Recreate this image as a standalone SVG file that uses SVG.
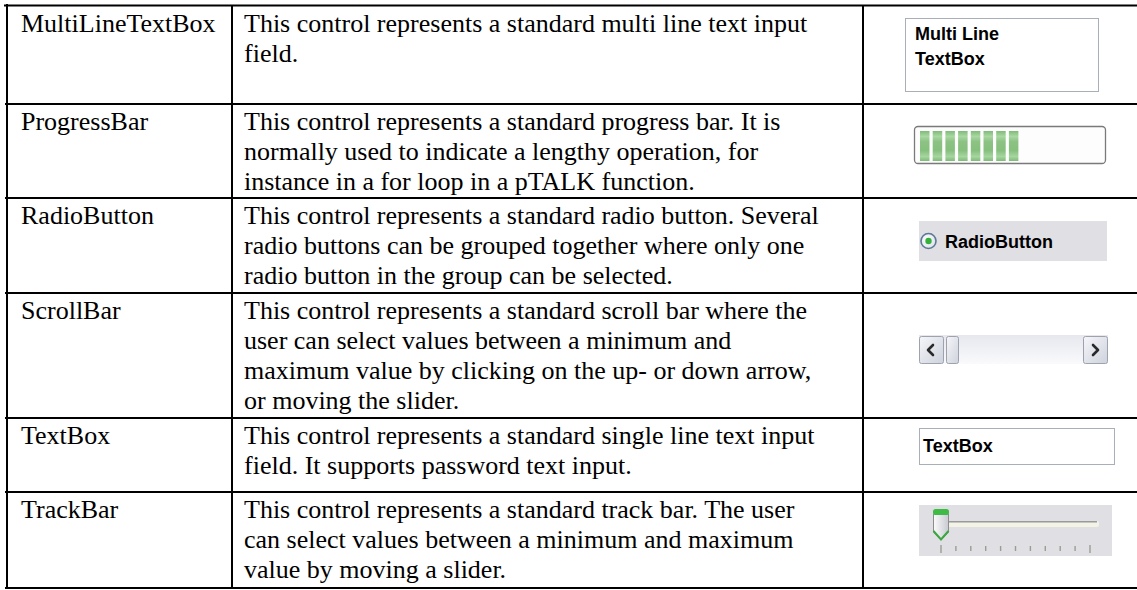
<svg xmlns="http://www.w3.org/2000/svg" width="1137" height="590" viewBox="0 0 1137 590">
  <style>
    .t { font-family: "Liberation Serif", "Times New Roman", serif; font-size: 26px; fill: #000; }
    .ui { font-family: "Liberation Sans", Arial, sans-serif; font-size: 18px; font-weight: bold; fill: #000; }
    .rule { stroke: #000; stroke-width: 2; fill: none; }
    .panel { fill: #e0dfe3; }
    .btn { fill: url(#btnFill); stroke: #9ca2ae; stroke-width: 1; }
    .chev { fill: none; stroke: #2a2a2a; stroke-width: 2.6; stroke-linecap: round; stroke-linejoin: round; }
    .seg { fill: url(#segFill); }
    .tick { stroke: #9c9c92; stroke-width: 1.4; }
  </style>
  <defs>
    <linearGradient id="segFill" x1="0" y1="0" x2="0" y2="1">
      <stop offset="0" stop-color="#7fbb78"/>
      <stop offset="0.18" stop-color="#a9d8a2"/>
      <stop offset="0.35" stop-color="#8cc384"/>
      <stop offset="0.65" stop-color="#86bf7e"/>
      <stop offset="0.85" stop-color="#a6d59f"/>
      <stop offset="1" stop-color="#7fbb78"/>
    </linearGradient>
    <linearGradient id="btnFill" x1="0" y1="0" x2="1" y2="1">
      <stop offset="0" stop-color="#f6f6fa"/>
      <stop offset="1" stop-color="#cfd2dc"/>
    </linearGradient>
    <linearGradient id="trackFill" x1="0" y1="0" x2="0" y2="1">
      <stop offset="0" stop-color="#e6e8ee"/>
      <stop offset="1" stop-color="#fafafc"/>
    </linearGradient>
    <linearGradient id="thumbFill" x1="0" y1="0" x2="1" y2="0">
      <stop offset="0" stop-color="#fbfbfb"/>
      <stop offset="1" stop-color="#c9cad2"/>
    </linearGradient>
    <radialGradient id="ringFill" cx="0.4" cy="0.4" r="0.6">
      <stop offset="0" stop-color="#ffffff"/>
      <stop offset="1" stop-color="#dfe3ea"/>
    </radialGradient>
  </defs>

  <rect width="1137" height="590" fill="#fff"/>

  <!-- table rules -->
  <g id="grid">
    <line class="rule" x1="4" y1="5.5" x2="1137" y2="5.5" stroke-width="3"/>
    <line class="rule" x1="7" y1="4" x2="7" y2="589" stroke-width="4"/>
    <line class="rule" x1="232" y1="5" x2="232" y2="589"/>
    <line class="rule" x1="863" y1="5" x2="863" y2="589"/>
    <line class="rule" x1="5" y1="104" x2="1137" y2="104"/>
    <line class="rule" x1="5" y1="198" x2="1137" y2="198"/>
    <line class="rule" x1="5" y1="293" x2="1137" y2="293"/>
    <line class="rule" x1="5" y1="418" x2="1137" y2="418"/>
    <line class="rule" x1="5" y1="492" x2="1137" y2="492"/>
    <line class="rule" x1="5" y1="588" x2="1137" y2="588"/>
  </g>

  <!-- MultiLineTextBox -->
  <g id="row-multiline">
    <text class="t" x="21" y="32">MultiLineTextBox</text>
    <text class="t" x="244" y="32">This control represents a standard multi line text input</text>
    <text class="t" x="244" y="62">field.</text>
    <rect x="905.5" y="18.5" width="193" height="73" fill="#fff" stroke="#a8afb8"/>
    <text class="ui" x="915" y="40">Multi Line</text>
    <text class="ui" x="915" y="65">TextBox</text>
  </g>

  <!-- ProgressBar -->
  <g id="row-progress">
    <text class="t" x="21" y="130">ProgressBar</text>
    <text class="t" x="244" y="130">This control represents a standard progress bar. It is</text>
    <text class="t" x="244" y="160">normally used to indicate a lengthy operation, for</text>
    <text class="t" x="244" y="190">instance in a for loop in a pTALK function.</text>
    <rect x="914.5" y="126.5" width="191" height="37" rx="3.5" fill="#fdfdfd" stroke="#7a7a7a" stroke-width="1.3"/>
    <rect class="seg" x="920" y="131" width="9.5" height="30"/>
    <rect class="seg" x="932.7" y="131" width="9.5" height="30"/>
    <rect class="seg" x="945.4" y="131" width="9.5" height="30"/>
    <rect class="seg" x="958.1" y="131" width="9.5" height="30"/>
    <rect class="seg" x="970.8" y="131" width="9.5" height="30"/>
    <rect class="seg" x="983.5" y="131" width="9.5" height="30"/>
    <rect class="seg" x="996.2" y="131" width="9.5" height="30"/>
    <rect class="seg" x="1008.9" y="131" width="9.5" height="30"/>
  </g>

  <!-- RadioButton -->
  <g id="row-radio">
    <text class="t" x="21" y="224">RadioButton</text>
    <text class="t" x="244" y="224">This control represents a standard radio button. Several</text>
    <text class="t" x="244" y="254">radio buttons can be grouped together where only one</text>
    <text class="t" x="244" y="284">radio button in the group can be selected.</text>
    <rect class="panel" x="919" y="221" width="188" height="40"/>
    <circle cx="928.5" cy="241" r="7.5" fill="url(#ringFill)" stroke="#5b7896" stroke-width="1.6"/>
    <circle cx="928.5" cy="241" r="3.2" fill="#35b03a"/>
    <text class="ui" x="945" y="248">RadioButton</text>
  </g>

  <!-- ScrollBar -->
  <g id="row-scroll">
    <text class="t" x="21" y="319">ScrollBar</text>
    <text class="t" x="244" y="319">This control represents a standard scroll bar where the</text>
    <text class="t" x="244" y="349">user can select values between a minimum and</text>
    <text class="t" x="244" y="379">maximum value by clicking on the up- or down arrow,</text>
    <text class="t" x="244" y="409">or moving the slider.</text>
    <rect x="919" y="335" width="189" height="29" fill="url(#trackFill)"/>
    <rect class="btn" x="919.5" y="336.5" width="24" height="27" rx="2"/>
    <path class="chev" d="M933,345 L928,350 L933,355"/>
    <rect class="btn" x="946.5" y="336.5" width="12" height="27" rx="2"/>
    <rect class="btn" x="1083.5" y="336.5" width="24" height="27" rx="2"/>
    <path class="chev" d="M1093,345 L1098,350 L1093,355"/>
  </g>

  <!-- TextBox -->
  <g id="row-textbox">
    <text class="t" x="21" y="444">TextBox</text>
    <text class="t" x="244" y="444">This control represents a standard single line text input</text>
    <text class="t" x="244" y="474">field. It supports password text input.</text>
    <rect x="919.5" y="428.5" width="195" height="36" fill="#fff" stroke="#a8afb8"/>
    <text class="ui" x="923" y="452">TextBox</text>
  </g>

  <!-- TrackBar -->
  <g id="row-trackbar">
    <text class="t" x="21" y="518">TrackBar</text>
    <text class="t" x="244" y="518">This control represents a standard track bar. The user</text>
    <text class="t" x="244" y="548">can select values between a minimum and maximum</text>
    <text class="t" x="244" y="578">value by moving a slider.</text>
    <rect class="panel" x="919" y="505" width="193" height="51"/>
    <rect x="945" y="521" width="154" height="6" rx="2" fill="#f3f3e6"/>
    <line x1="945" y1="521.8" x2="1097" y2="521.8" stroke="#9a9a9a" stroke-width="1.6"/>
    <path d="M933.5,514 L948.5,514 L948.5,532 L941,540 L933.5,532 Z" fill="url(#thumbFill)" stroke="#8c8c8c" stroke-width="1"/>
    <rect x="933" y="509" width="16" height="6" rx="2.5" fill="#3dbb44"/>
    <path d="M933.5,531 L941,539.5 L948.5,531" fill="none" stroke="#3aa83e" stroke-width="2"/>
    <line class="tick" x1="941" y1="545" x2="941" y2="553"/>
    <line class="tick" x1="955.9" y1="546" x2="955.9" y2="551"/>
    <line class="tick" x1="970.8" y1="546" x2="970.8" y2="551"/>
    <line class="tick" x1="985.7" y1="546" x2="985.7" y2="551"/>
    <line class="tick" x1="1000.6" y1="546" x2="1000.6" y2="551"/>
    <line class="tick" x1="1015.5" y1="546" x2="1015.5" y2="551"/>
    <line class="tick" x1="1030.4" y1="546" x2="1030.4" y2="551"/>
    <line class="tick" x1="1045.3" y1="546" x2="1045.3" y2="551"/>
    <line class="tick" x1="1060.2" y1="546" x2="1060.2" y2="551"/>
    <line class="tick" x1="1075.1" y1="546" x2="1075.1" y2="551"/>
    <line class="tick" x1="1090" y1="545" x2="1090" y2="553"/>
  </g>
</svg>
